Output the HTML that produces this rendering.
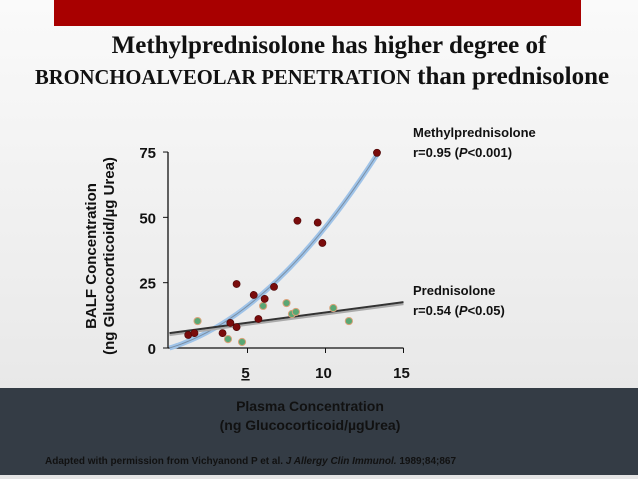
<!DOCTYPE html>
<html><head><meta charset="utf-8"><style>
html,body{margin:0;padding:0}
body{width:638px;height:479px;overflow:hidden;position:relative;background:linear-gradient(180deg,#fafafa 0%,#ededed 60%,#e4e4e4 100%);font-family:"Liberation Sans",sans-serif}
.t{position:absolute;white-space:nowrap}
</style></head><body>
<div style="position:absolute;left:54px;top:0;width:527px;height:26px;background:#a80000"></div>
<div class="t" style="left:0;width:658px;text-align:center;top:32px;font:bold 25px 'Liberation Serif',serif;color:#111">Methylprednisolone has higher degree of</div>
<div class="t" style="left:35px;top:63px;font:bold 25px 'Liberation Serif',serif;color:#111"><span style="font-size:20.6px">BRONCHOALVEOLAR PENETRATION</span> than prednisolone</div>
<div style="position:absolute;left:0;top:388px;width:638px;height:87px;background:#343c45"></div>
<div class="t" style="left:160px;width:300px;text-align:center;top:397px;font:bold 14px 'Liberation Sans',sans-serif;color:#111;line-height:19px">Plasma Concentration<br>(ng Glucocorticoid/µgUrea)</div>
<div class="t" style="left:45px;top:456px;font:bold 10px 'Liberation Sans',sans-serif;color:#111">Adapted with permission from Vichyanond P et al. <i>J Allergy Clin Immunol.</i> 1989;84;867</div>
<svg id="chart" width="638" height="479" style="position:absolute;left:0;top:0">
<text transform="translate(96,256) rotate(-90)" text-anchor="middle" font-family="Liberation Sans" font-weight="bold" font-size="15" fill="#111"><tspan x="0" dy="0">BALF Concentration</tspan><tspan x="0" dy="18">(ng Glucocorticoid/µg Urea)</tspan></text>
<g id="plot"></g>
<text x="413" y="137" font-family="Liberation Sans" font-weight="bold" font-size="13" fill="#111">Methylprednisolone</text>
<text x="413" y="157" font-family="Liberation Sans" font-weight="bold" font-size="13" fill="#111">r=0.95 (<tspan font-style="italic">P</tspan>&lt;0.001)</text>
<text x="413" y="295" font-family="Liberation Sans" font-weight="bold" font-size="13" fill="#111">Prednisolone</text>
<text x="413" y="315" font-family="Liberation Sans" font-weight="bold" font-size="13" fill="#111">r=0.54 (<tspan font-style="italic">P</tspan>&lt;0.05)</text>
</svg>
<script>
const xTicks=[5,10,15];
const yTicks=[0,25,50,75];
const methylX=[1.2,1.6,3.4,3.9,4.3,4.3,5.4,6.1,5.7,6.7,8.2,9.5,9.8,13.3];
const methylY=[5.0,5.7,5.7,9.6,8.0,24.5,20.3,18.8,11.1,23.4,48.7,48.0,40.2,74.7];
const predX=[1.8,3.75,4.65,6.0,7.5,7.85,8.1,10.5,11.5];
const predY=[10.3,3.4,2.3,16.1,17.2,13.0,13.8,15.3,10.3];
const methylFit=[0,1.804,0.2827];
const predFit=[5.7,0.79];
const NS="http://www.w3.org/2000/svg";
const g=document.getElementById('plot');
const sx=v=>169.5+v*15.6, sy=v=>348-v*2.613;
function el(t,a){const e=document.createElementNS(NS,t);for(const k in a)e.setAttribute(k,a[k]);g.appendChild(e);return e;}
let e=el('line',{x1:168,y1:sy(0),x2:sx(15),y2:sy(0),stroke:'#111','stroke-width':1.3});


e=el('line',{x1:168,y1:sy(0),x2:168,y2:sy(75),stroke:'#111','stroke-width':1.3});


xTicks.forEach(v=>{
 let l=el('line',{x1:sx(v),y1:348,x2:sx(v),y2:353,stroke:'#111'});
 
 
 let t=el('text',{x:sx(v)-2,y:378,'text-anchor':'middle','font-family':'Liberation Sans','font-weight':'bold','font-size':15,fill:'#111'});
 t.textContent=v;
 if(v===5)t.setAttribute('text-decoration','underline');
 
 
});
yTicks.forEach(v=>{
 let l=el('line',{x1:163,y1:sy(v),x2:168,y2:sy(v),stroke:'#111'});
 
 
 let t=el('text',{x:156,y:sy(v)+6,'text-anchor':'end','font-family':'Liberation Sans','font-weight':'bold','font-size':15,fill:'#111'});
 t.textContent=v;
 
 
});
let d='';for(let i=0;i<=50;i++){const x=13.3*i/50;const y=methylFit[0]+methylFit[1]*x+methylFit[2]*x*x;d+=(i?'L':'M')+sx(x).toFixed(1)+','+sy(y).toFixed(1);}
e=el('path',{d:d,fill:'none',stroke:'#9fc3e8','stroke-width':5});


e=el('path',{d:d,fill:'none',stroke:'#7a8fa5','stroke-width':1});


e=el('line',{x1:sx(0),y1:sy(predFit[0])+2,x2:sx(15),y2:sy(predFit[0]+predFit[1]*15)+2,stroke:'#aaa','stroke-width':2});


e=el('line',{x1:sx(0),y1:sy(predFit[0]),x2:sx(15),y2:sy(predFit[0]+predFit[1]*15),stroke:'#333','stroke-width':2});


predX.forEach((x,i)=>{
 let c=el('circle',{cx:sx(x),cy:sy(predY[i]),r:3.6,fill:'#5aa774',stroke:'#d9a27a','stroke-width':1});
 
 
});
methylX.forEach((x,i)=>{
 let c=el('circle',{cx:sx(x),cy:sy(methylY[i]),r:3.6,fill:'#7a0c0c',stroke:'#4a0505','stroke-width':0.6});
 
 
});
</script>
</body></html>
